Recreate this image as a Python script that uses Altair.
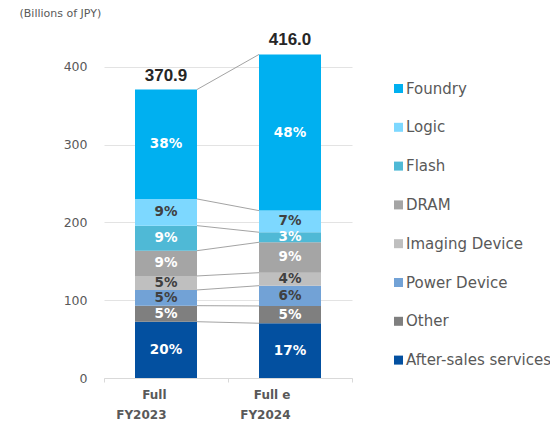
import altair as alt
import pandas as pd

# ---- data ----
periods = ["Full|FY2023", "Full e|FY2024"]
segments = ["Foundry", "Logic", "Flash", "DRAM", "Imaging Device",
            "Power Device", "Other", "After-sales services"]
colors = ["#00B0F0", "#7DD8FF", "#4FB9D6", "#A5A5A5", "#BFBFBF",
          "#72A2D6", "#7F7F7F", "#0350A0"]
values_fy2023 = [140.7, 34.3, 32.2, 32.5, 18.0, 20.2, 20.6, 72.4]
values_fy2024 = [200.8, 27.8, 12.9, 39.1, 16.7, 26.1, 22.2, 70.4]
pct_fy2023 = ["38%", "9%", "9%", "9%", "5%", "5%", "5%", "20%"]
pct_fy2024 = ["48%", "7%", "3%", "9%", "4%", "6%", "5%", "17%"]
dark_text_segments = ["Logic", "Imaging Device", "Power Device"]
y_ticks = [0, 100, 200, 300, 400]

# ---- build tables ----
rows = []
for period, vals, pcts in [(periods[0], values_fy2023, pct_fy2023),
                           (periods[1], values_fy2024, pct_fy2024)]:
    n = len(segments)
    bottom = 0.0
    for i in range(n - 1, -1, -1):  # bottom-up
        top = bottom + vals[i]
        rows.append({"period": period, "segment": segments[i], "value": vals[i],
                     "order": n - 1 - i, "pct": pcts[i],
                     "bottom": bottom, "top": top, "mid": (bottom + top) / 2})
        bottom = top
df = pd.DataFrame(rows)

totals = df.groupby("period", sort=False)["value"].sum().reset_index()
totals["label"] = totals["value"].map(lambda v: f"{v:.1f}")

a = df[df["period"] == periods[0]].set_index("segment")
b = df[df["period"] == periods[1]].set_index("segment")
links = pd.DataFrame({
    "segment": segments,
    "p1": periods[0], "p2": periods[1],
    "y1": [a.loc[s, "top"] for s in segments],
    "y2": [b.loc[s, "top"] for s in segments],
})

FONT = "DejaVu Sans"
GRAY = "#595959"

x_scale = alt.Scale(domain=periods, paddingInner=0, paddingOuter=0)
x_enc = alt.X("period:N", scale=x_scale,
              axis=alt.Axis(title=None, labelExpr="split(datum.label, '|')",
                            labelAngle=0, labelFont=FONT, labelFontWeight="bold",
                            labelFontSize=12, labelColor=GRAY, labelLineHeight=20,
                            labelPadding=12, tickBand="extent", ticks=True,
                            tickSize=4, tickColor="#D9D9D9", domainColor="#D9D9D9",
                            grid=False))
y_scale = alt.Scale(domain=[0, 450], nice=False)

bars = alt.Chart(df).mark_bar(size=62).encode(
    x=x_enc,
    y=alt.Y("value:Q", stack="zero", scale=y_scale,
            axis=alt.Axis(values=y_ticks, title="(Billions of JPY)", titleAngle=0,
                          titleAlign="left", titleBaseline="middle",
                          titleX=-85, titleY=-15, titleFont=FONT,
                          titleFontSize=11, titleFontWeight="normal",
                          titleColor=GRAY, labelFont=FONT, labelFontSize=12.5,
                          labelColor=GRAY, labelPadding=17, domain=False,
                          ticks=False, tickSize=0, grid=True,
                          gridColor="#E3E3E3")),
    color=alt.Color("segment:N", sort=segments,
                    scale=alt.Scale(domain=segments, range=colors),
                    legend=alt.Legend(title=None, orient="none", legendX=287,
                                      legendY=53, symbolType="square",
                                      symbolSize=81, symbolStrokeWidth=0,
                                      labelFont=FONT, labelFontSize=15,
                                      labelColor=GRAY, rowPadding=22.8,
                                      labelOffset=0, padding=0,
                                      labelLimit=300)),
    order=alt.Order("order:Q", sort="ascending"),
)

pct_text = alt.Chart(df).mark_text(font=FONT, fontWeight="bold", fontSize=13.5,
                                   baseline="middle").encode(
    x=alt.X("period:N", scale=x_scale),
    y=alt.Y("mid:Q"),
    text="pct:N",
    color=alt.condition(
        alt.FieldOneOfPredicate(field="segment", oneOf=dark_text_segments),
        alt.value("#404040"), alt.value("white")),
)

total_text = alt.Chart(totals).mark_text(font="Liberation Sans", fontWeight="bold",
                                         fontSize=17, baseline="bottom", dy=-5,
                                         color="#262626").encode(
    x=alt.X("period:N", scale=x_scale),
    y=alt.Y("value:Q"),
    text="label:N",
)

link_rules = alt.Chart(links).mark_rule(xOffset=31, x2Offset=-31, color="#8C8C8C",
                                        strokeWidth=0.8).encode(
    x=alt.X("p1:N", scale=x_scale),
    x2="p2:N",
    y="y1:Q",
    y2="y2:Q",
)

chart = alt.layer(link_rules, bars, pct_text, total_text).properties(
    width=248, height=350, autosize="none",
    padding={"left": 96, "top": 20, "right": 198, "bottom": 46},
).configure_view(stroke=None)

chart.save("out.html", embed_options={"renderer": "svg", "actions": False})
